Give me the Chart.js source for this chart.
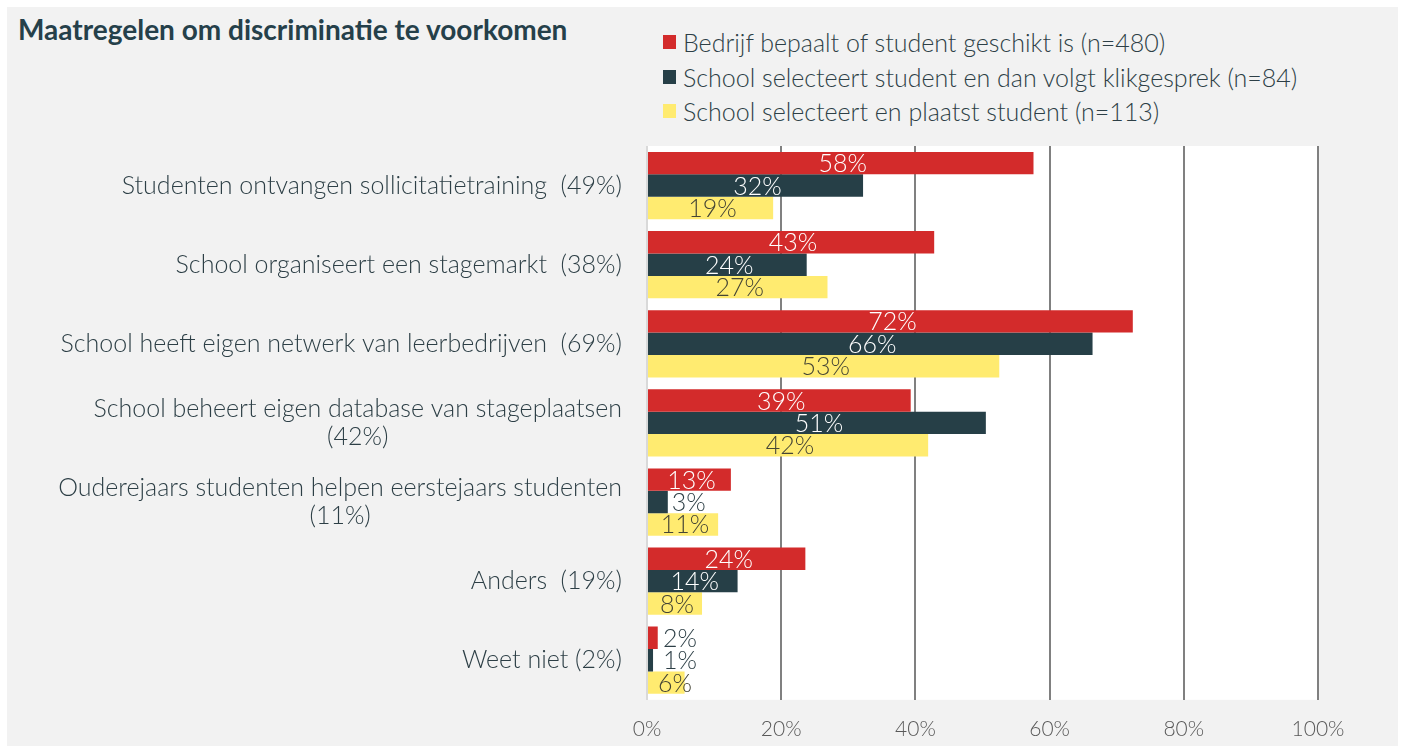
<!DOCTYPE html>
<html>
<head>
<meta charset="utf-8">
<script src="https://cdn.jsdelivr.net/npm/chart.js@4"></script>
<style>
    body { margin: 0; background: #ffffff; font-family: Lato, 'Open Sans', sans-serif; }
    .panel { position: absolute; left: 7px; top: 7px; width: 1391px; height: 739px; background: #f2f2f2; }
    .title { position: absolute; left: 11px; top: 5px; font-size: 28px; font-weight: bold; color: #25404a; }
    .legend { position: absolute; left: 656px; top: 18px; }
    .legend-item { height: 34.5px; display: flex; align-items: center; font-size: 25px; font-weight: 300; color: #2d3f46; white-space: nowrap; }
    .legend-box { width: 13px; height: 14px; margin-right: 7px; }
    canvas { position: absolute; left: 0; top: 0; }
</style>
</head>
<body>
<div class="panel">
    <div class="title">Maatregelen om discriminatie te voorkomen</div>
    <div class="legend" id="legend"></div>
    <canvas id="chart" width="1391" height="739"></canvas>
</div>
<script>
// Data for the chart
const categories = [
    'Studenten ontvangen sollicitatietraining  (49%)',
    'School organiseert een stagemarkt  (38%)',
    'School heeft eigen netwerk van leerbedrijven  (69%)',
    ['School beheert eigen database van stageplaatsen', '(42%)'],
    ['Ouderejaars studenten helpen eerstejaars studenten', '(11%)'],
    'Anders  (19%)',
    'Weet niet (2%)'
];

const seriesNames = [
    'Bedrijf bepaalt of student geschikt is (n=480)',
    'School selecteert student en dan volgt klikgesprek (n=84)',
    'School selecteert en plaatst student (n=113)'
];

const bedrijfValues = [57.6, 42.8, 72.4, 39.3, 12.5, 23.6, 1.6];
const klikgesprekValues = [32.2, 23.8, 66.4, 50.5, 3.1, 13.5, 0.9];
const plaatstValues = [18.8, 26.9, 52.5, 41.9, 10.6, 8.2, 5.6];

const xTicks = [0, 20, 40, 60, 80, 100];

const barColors = ['#d32b2b', '#263f47', '#ffeb70'];
const insideLabelColors = ['#ffffff', '#ffffff', '#454535'];
const textColor = '#2d3f46';
const labelFont = '300 25px Lato, sans-serif';

// White plot background
const plotBackground = {
    id: 'plotBackground',
    beforeDraw(chart) {
        const { ctx, chartArea } = chart;
        ctx.save();
        ctx.fillStyle = '#ffffff';
        ctx.fillRect(chartArea.left, chartArea.top, chartArea.right - chartArea.left, chartArea.bottom - chartArea.top);
        ctx.restore();
    }
};

// Category labels: block right aligned, lines centered in the block
const categoryLabels = {
    id: 'categoryLabels',
    afterDraw(chart) {
        const { ctx, chartArea } = chart;
        const yScale = chart.scales.y;
        ctx.save();
        ctx.font = labelFont;
        ctx.fillStyle = textColor;
        ctx.textAlign = 'center';
        ctx.textBaseline = 'middle';
        const rightX = chartArea.left - 25;
        categories.forEach((label, i) => {
            const lines = Array.isArray(label) ? label : [label];
            const blockWidth = Math.max(...lines.map(l => ctx.measureText(l).width));
            const yc = yScale.getPixelForValue(i);
            lines.forEach((line, j) => {
                ctx.fillText(line, rightX - blockWidth / 2, yc + (j - (lines.length - 1) / 2) * 28);
            });
        });
        ctx.restore();
    }
};

// Value labels: centered on the bar, or just after it when the bar is too short
const valueLabels = {
    id: 'valueLabels',
    afterDatasetsDraw(chart) {
        const { ctx } = chart;
        ctx.save();
        ctx.font = labelFont;
        ctx.textBaseline = 'middle';
        chart.data.datasets.forEach((ds, di) => {
            chart.getDatasetMeta(di).data.forEach((bar, i) => {
                const text = Math.round(ds.data[i]) + '%';
                const w = ctx.measureText(text).width;
                const barWidth = bar.x - bar.base;
                if (w < barWidth) {
                    ctx.textAlign = 'center';
                    ctx.fillStyle = insideLabelColors[di];
                    const cx = Math.max((bar.x + bar.base) / 2 + 2, bar.base + 10 + w / 2);
                    ctx.fillText(text, cx, bar.y + 1);
                } else {
                    ctx.textAlign = 'left';
                    ctx.fillStyle = textColor;
                    ctx.fillText(text, Math.max(bar.x + 4, bar.base + 15), bar.y + 1);
                }
            });
        });
        ctx.restore();
    }
};

document.addEventListener('DOMContentLoaded', () => {
    const allValues = [bedrijfValues, klikgesprekValues, plaatstValues];

    // HTML legend
    const legend = document.getElementById('legend');
    seriesNames.forEach((name, i) => {
        const item = document.createElement('div');
        item.className = 'legend-item';
        item.innerHTML = `<span class="legend-box" style="background:${barColors[i]}"></span><span>${name}</span>`;
        legend.appendChild(item);
    });

    const ctx = document.getElementById('chart').getContext('2d');
    new Chart(ctx, {
        type: 'bar',
        data: {
            labels: categories,
            datasets: seriesNames.map((name, i) => ({
                label: name,
                data: allValues[i],
                backgroundColor: barColors[i],
                categoryPercentage: 0.85,
                barPercentage: 1
            }))
        },
        options: {
            indexAxis: 'y',
            responsive: false,
            animation: false,
            layout: { padding: { left: 640, right: 80, top: 139, bottom: -13 } },
            plugins: {
                legend: { display: false },
                tooltip: { enabled: false }
            },
            scales: {
                x: {
                    min: 0,
                    max: 100,
                    afterBuildTicks: (scale) => { scale.ticks = xTicks.map(v => ({ value: v })); },
                    border: { display: false },
                    grid: {
                        drawTicks: false,
                        lineWidth: 2,
                        color: (c) => c.tick && c.tick.value === 0 ? '#d9d9d9' : '#808080'
                    },
                    ticks: {
                        padding: 17,
                        color: '#595959',
                        font: { family: 'Lato', size: 21, weight: 300 },
                        callback: (v) => v + '%'
                    }
                },
                y: {
                    display: false
                }
            }
        },
        plugins: [plotBackground, categoryLabels, valueLabels]
    });
});
</script>
</body>
</html>
